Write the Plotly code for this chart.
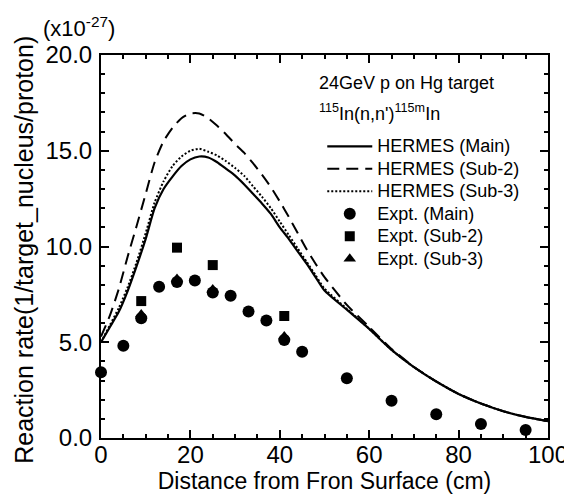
import plotly.graph_objects as go

# Calculated curves (HERMES)
x_calc = [0, 2, 4, 6, 8, 10, 12, 14, 16, 18, 20, 22, 24, 26, 28, 30, 32, 34, 36, 38,
          40, 42, 44, 46, 48, 50, 55, 60, 65, 70, 75, 80, 85, 90, 95, 100]
hermes_main = [5.0, 5.8, 6.6, 7.7, 9.0, 10.4, 12.0, 13.0, 13.65, 14.2, 14.55, 14.7, 14.65, 14.4,
               14.05, 13.7, 13.25, 12.75, 12.25, 11.7, 11.0, 10.4, 9.75, 9.1, 8.4, 7.7, 6.7, 5.7,
               4.6, 3.7, 2.95, 2.3, 1.8, 1.4, 1.1, 0.88]
hermes_sub2 = [5.3, 6.4, 7.8, 9.5, 11.1, 12.75, 14.4, 15.5, 16.2, 16.7, 16.95, 16.95, 16.7, 16.3,
               15.85, 15.35, 14.9, 14.35, 13.75, 13.1, 12.35, 11.55, 10.7, 9.85, 9.1, 8.4, 6.95, 5.8,
               4.65, 3.72, 2.95, 2.3, 1.8, 1.4, 1.1, 0.88]
hermes_sub3 = [5.0, 5.9, 6.8, 7.9, 9.2, 10.7, 12.3, 13.4, 14.2, 14.7, 15.0, 15.1, 14.95, 14.75,
               14.45, 14.1, 13.7, 13.15, 12.6, 12.0, 11.3, 10.6, 9.9, 9.2, 8.5, 7.8, 6.75, 5.7,
               4.6, 3.7, 2.95, 2.3, 1.8, 1.4, 1.1, 0.88]

# Experimental data
x_expt_main = [0, 5, 9, 13, 17, 21, 25, 29, 33, 37, 41, 45, 55, 65, 75, 85, 95]
y_expt_main = [3.43, 4.82, 6.25, 7.9, 8.15, 8.23, 7.6, 7.43, 6.6, 6.13, 5.12, 4.5, 3.12, 1.95,
               1.24, 0.73, 0.42]
x_expt_sub2 = [9, 17, 25, 41]
y_expt_sub2 = [7.15, 9.94, 9.03, 6.37]
x_expt_sub3 = [9, 17, 25, 41]
y_expt_sub3 = [6.45, 8.3, 7.75, 5.3]

x_ticks = [0, 20, 40, 60, 80, 100]
y_ticks = [0, 5, 10, 15, 20]

FONT = "Liberation Sans, Arial, Helvetica, sans-serif"


def leg(name):
    return '<span style="font-size:18px">' + name + '</span>'


fig = go.Figure()
fig.add_trace(go.Scatter(x=x_calc, y=hermes_main, mode="lines", name=leg("HERMES (Main)"),
                         line=dict(color="black", width=2.2, shape="spline", smoothing=0.6)))
fig.add_trace(go.Scatter(x=x_calc, y=hermes_sub2, mode="lines", name=leg("HERMES (Sub-2)"),
                         line=dict(color="black", width=2, dash="12px,7px", shape="spline", smoothing=0.6)))
fig.add_trace(go.Scatter(x=x_calc, y=hermes_sub3, mode="lines", name=leg("HERMES (Sub-3)"),
                         line=dict(color="black", width=2, dash="2px,2px", shape="spline", smoothing=0.6)))
fig.add_trace(go.Scatter(x=x_expt_main, y=y_expt_main, mode="markers", name=leg("Expt. (Main)"),
                         marker=dict(symbol="circle", size=12, color="black"), cliponaxis=False))
fig.add_trace(go.Scatter(x=x_expt_sub2, y=y_expt_sub2, mode="markers", name=leg("Expt. (Sub-2)"),
                         marker=dict(symbol="square", size=10, color="black"), cliponaxis=False))
fig.add_trace(go.Scatter(x=x_expt_sub3, y=y_expt_sub3, mode="markers", name=leg("Expt. (Sub-3)"),
                         marker=dict(symbol="triangle-up", size=11, color="black"), cliponaxis=False))

axis_common = dict(
    showline=True, linecolor="black", linewidth=2, mirror="ticks",
    ticks="inside", ticklen=8, tickwidth=1.5, tickcolor="black",
    showgrid=False, zeroline=False,
    tickfont=dict(family=FONT, size=24, color="black"),
)

fig.update_xaxes(range=[0, 100], tickvals=x_ticks, ticklabelstandoff=-6,
                 minor=dict(dtick=5, ticks="inside", ticklen=4, tickwidth=1.5, tickcolor="black"),
                 title=dict(text="Distance from Fron Surface (cm)",
                            font=dict(family=FONT, size=23, color="black"), standoff=0),
                 **axis_common)
fig.update_yaxes(range=[0, 20], tickvals=y_ticks, tickformat=".1f", ticklabelstandoff=2,
                 minor=dict(dtick=1, ticks="inside", ticklen=4, tickwidth=1.5, tickcolor="black"),
                 **axis_common)

fig.update_layout(
    width=572, height=501,
    margin=dict(l=93, r=32, t=47, b=71, autoexpand=False),
    paper_bgcolor="white", plot_bgcolor="white",
    font=dict(family=FONT, color="black"),
    showlegend=True,
    legend=dict(x=0.495, y=0.804, xanchor="left", yanchor="top",
                bgcolor="rgba(0,0,0,0)", borderwidth=0,
                font=dict(family=FONT, size=15, color="black"),
                itemwidth=45, traceorder="normal"),
    annotations=[
        dict(text="Reaction rate(1/target_nucleus/proton)", xref="paper", yref="paper",
             x=-0.174, y=0.492, xanchor="center", yanchor="middle", textangle=-90,
             showarrow=False, font=dict(family=FONT, size=25, color="black")),
        dict(text="(x10<sup>-27</sup>)", xref="paper", yref="paper", x=-0.135, y=1.072,
             xanchor="left", yanchor="middle", showarrow=False,
             font=dict(family=FONT, size=22, color="black")),
        dict(text="24GeV p on Hg target", xref="paper", yref="paper", x=0.483, y=0.927,
             xanchor="left", yanchor="middle", showarrow=False,
             font=dict(family=FONT, size=18, color="black")),
        dict(text="<sup>115</sup>In(n,n')<sup>115m</sup>In", xref="paper", yref="paper",
             x=0.483, y=0.849, xanchor="left", yanchor="middle", showarrow=False,
             font=dict(family=FONT, size=18, color="black")),
    ],
)

fig.write_html("out.html")
